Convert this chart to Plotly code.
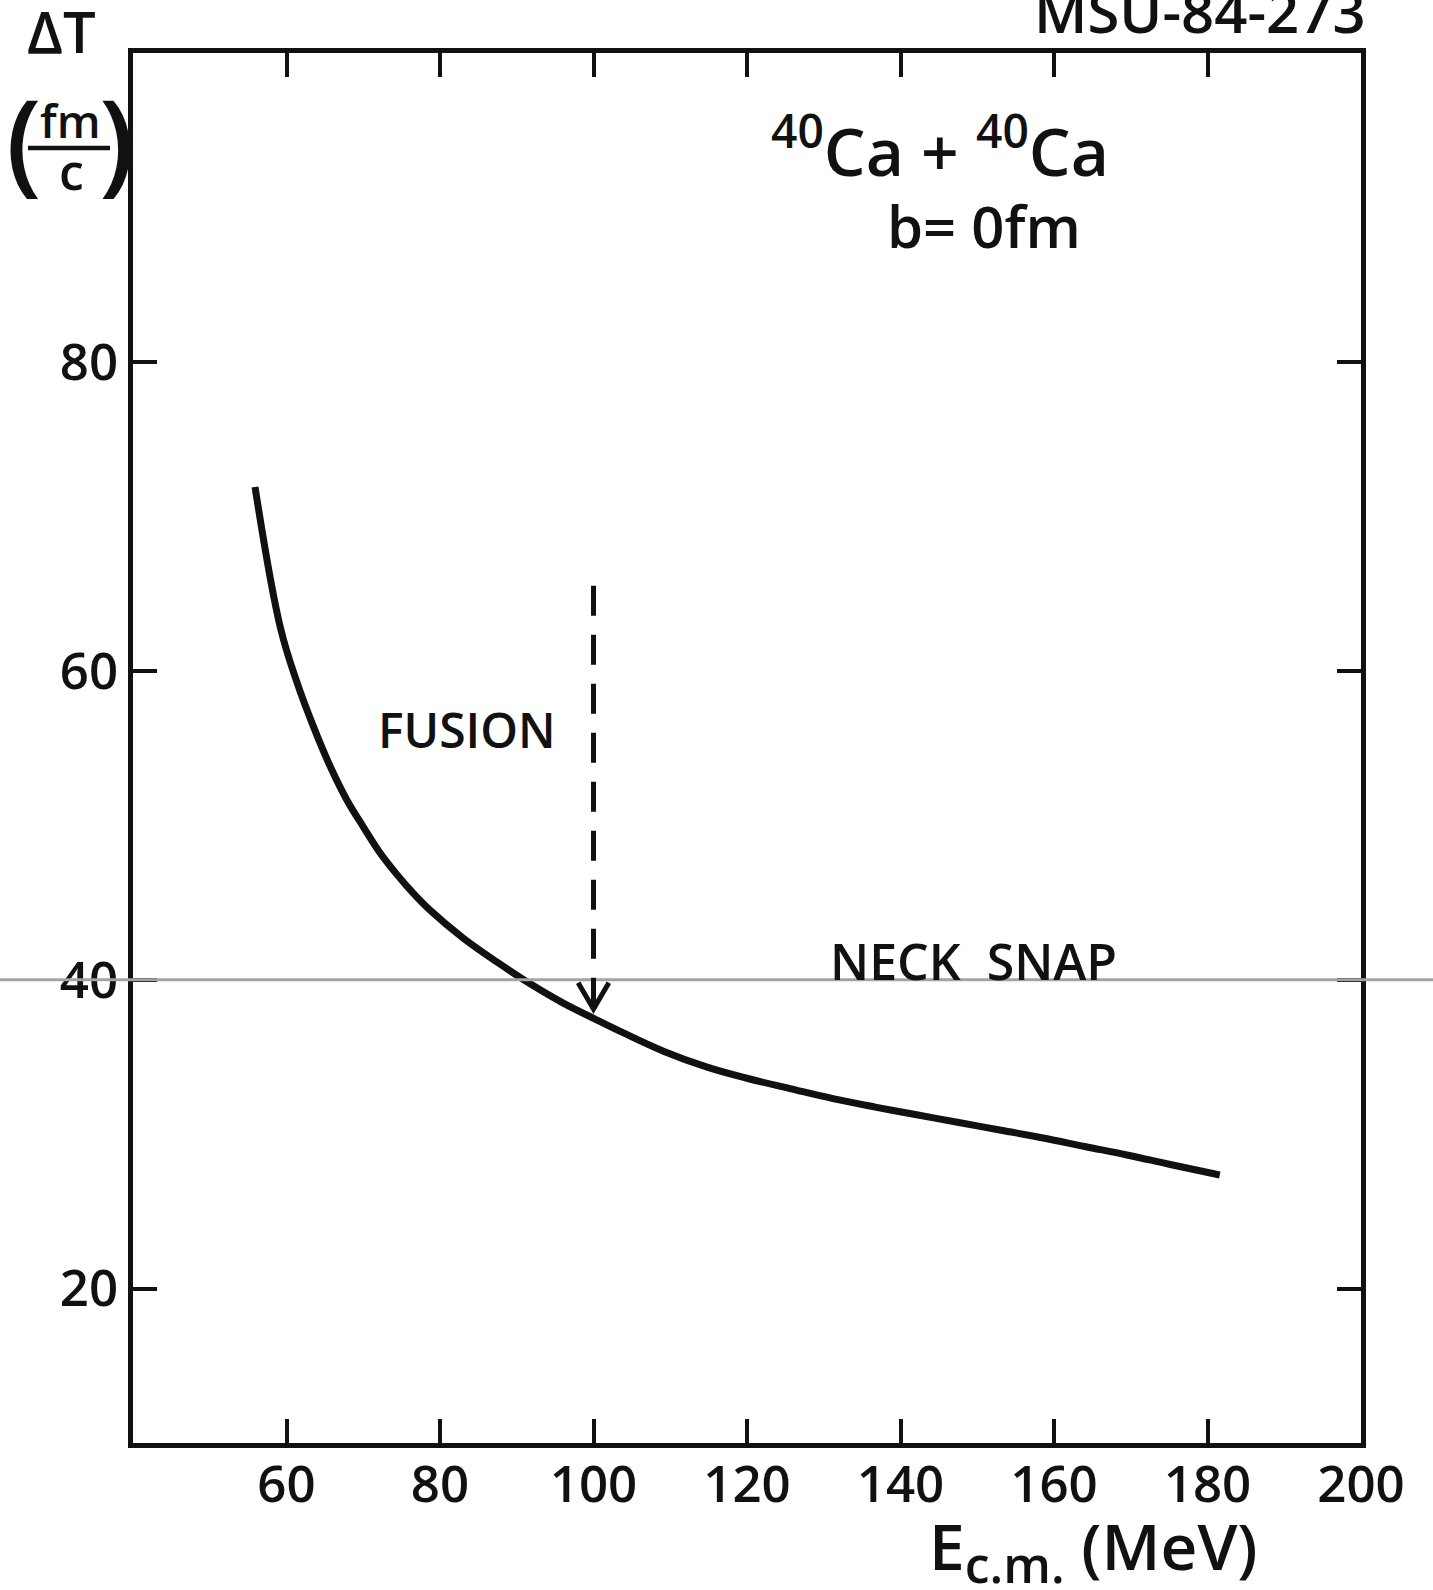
import plotly.graph_objects as go

# ---- data ----
e_cm = [55.9, 59.2, 61.4, 63.5, 65.7, 67.9, 70.0, 72.2, 74.4, 76.5, 78.7,
        83.0, 87.4, 91.7, 96.0, 100.2, 103.7, 109.2, 114.7, 120.1, 125.6, 131.2,
        136.7, 142.1, 147.6, 153.1, 158.6, 164.0, 169.5, 175.0, 181.6]
delta_t = [71.9, 62.8, 59.2, 56.4, 53.8, 51.6, 49.9, 48.2, 46.8, 45.6, 44.5,
           42.7, 41.15, 39.75, 38.5, 37.45, 36.6, 35.35, 34.35, 33.6, 32.95, 32.3,
           31.75, 31.25, 30.75, 30.25, 29.75, 29.2, 28.65, 28.05, 27.35]
x_ticks = [60, 80, 100, 120, 140, 160, 180, 200]
y_ticks = [20, 40, 60, 80]
fusion_energy = 100      # dashed arrow position
arrow_top, arrow_tip = 65.5, 38.1
ref_line_y = 40          # faint grey horizontal line

W, H = 1433, 1590
L, R, T, B = 133, 72, 53, 147
PW, PH = W - L - R, H - T - B

def px(X):
    return (X - L) / PW

def py(Y):
    return (H - B - Y) / PH

FONT = "Open Sans, DejaVu Sans"
WEIGHT = 600
BLACK = "#111111"

fig = go.Figure()
fig.add_trace(go.Scatter(x=e_cm, y=delta_t, mode="lines",
                         line=dict(color=BLACK, width=7, shape="spline", smoothing=1.1),
                         showlegend=False, hoverinfo="skip"))

axis_common = dict(showline=True, linecolor=BLACK, linewidth=4.5, mirror="ticks",
                   ticks="inside", ticklen=24, tickwidth=4, tickcolor=BLACK,
                   showgrid=False, zeroline=False,
                   tickfont=dict(family=FONT, size=51, color=BLACK, weight=WEIGHT))
fig.update_xaxes(range=[40, 200], tickvals=x_ticks, ticktext=[str(v) for v in x_ticks],
                 ticklabelstandoff=-7, **axis_common)
fig.update_yaxes(range=[10, 100], tickvals=y_ticks, ticktext=[str(v) for v in y_ticks],
                 ticklabelstandoff=0, **axis_common)

shapes = []
# grey scan line at y = 40 spanning whole page
shapes.append(dict(type="line", xref="paper", yref="y", x0=px(-5), x1=px(W + 5),
                   y0=ref_line_y, y1=ref_line_y, line=dict(color="#a3a3a3", width=3),
                   layer="above"))
# dashed arrow shaft
shapes.append(dict(type="line", xref="x", yref="y", x0=fusion_energy, x1=fusion_energy,
                   y0=arrow_top, y1=arrow_tip + 0.2,
                   line=dict(color=BLACK, width=5, dash="30px,19px")))
# arrow head (open V)
shapes.append(dict(type="path", xref="x", yref="y",
                   path=f"M {fusion_energy-2.0},{arrow_tip+1.7} L {fusion_energy},{arrow_tip} L {fusion_energy+2.0},{arrow_tip+1.7}",
                   line=dict(color=BLACK, width=5)))
# fraction bar in y-axis label
shapes.append(dict(type="line", xref="paper", yref="paper", x0=px(28), x1=px(110),
                   y0=py(148), y1=py(148), line=dict(color=BLACK, width=4.5)))

ann = []
def text(s, X, Y, size, xanchor="center", yanchor="middle"):
    ann.append(dict(text=s, x=px(X), y=py(Y), xref="paper", yref="paper",
                    xanchor=xanchor, yanchor=yanchor, showarrow=False,
                    font=dict(family=FONT, size=size, color=BLACK, weight=WEIGHT)))

text("ΔT", 61, 31, 58)
text("(", 24, 137, 112)
text(")", 117, 137, 112)
text("fm", 70, 120, 46)
text("c", 71, 171, 50)
text("MSU-84-273", 1368, 10, 58, xanchor="right")
text("<sup>40</sup>Ca\u00a0+\u00a0<sup>40</sup>Ca", 940, 147, 66)
text("b= 0fm", 984, 225, 58)
text("FUSION", 467, 729, 48)
text("NECK\u00a0 SNAP", 973, 961, 50)
text("E<sub><span style='font-size:50px'>c.m.</span></sub> (MeV)", 1093, 1550, 64)

fig.update_layout(width=W, height=H, margin=dict(l=L, r=R, t=T, b=B),
                  paper_bgcolor="white", plot_bgcolor="white",
                  shapes=shapes, annotations=ann, showlegend=False)

fig.write_html("out.html")
